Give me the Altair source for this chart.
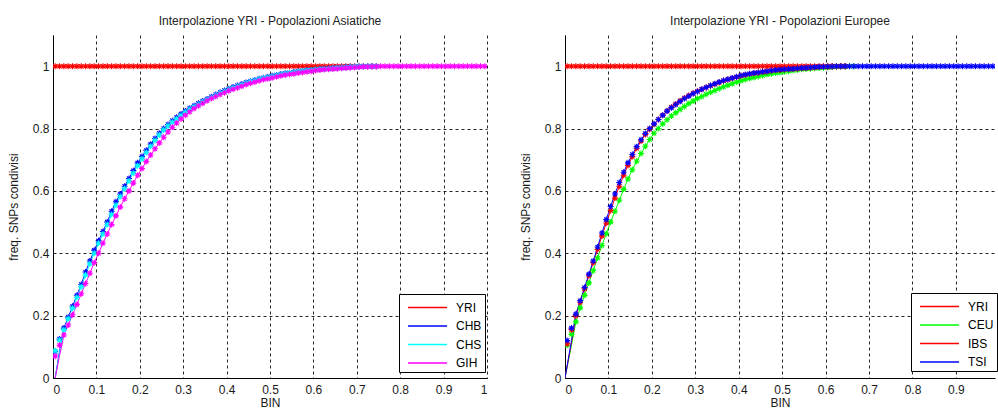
import altair as alt
import pandas as pd

FONT = "Liberation Sans"

# bin centres (x)
BIN = [0.005, 0.015, 0.025, 0.035, 0.045, 0.055, 0.065, 0.075, 0.085, 0.095,
       0.105, 0.115, 0.125, 0.135, 0.145, 0.155, 0.165, 0.175, 0.185, 0.195,
       0.205, 0.215, 0.225, 0.235, 0.245, 0.255, 0.265, 0.275, 0.285, 0.295,
       0.305, 0.315, 0.325, 0.335, 0.345, 0.355, 0.365, 0.375, 0.385, 0.395,
       0.405, 0.415, 0.425, 0.435, 0.445, 0.455, 0.465, 0.475, 0.485, 0.495,
       0.505, 0.515, 0.525, 0.535, 0.545, 0.555, 0.565, 0.575, 0.585, 0.595,
       0.605, 0.615, 0.625, 0.635, 0.645, 0.655, 0.665, 0.675, 0.685, 0.695,
       0.705, 0.715, 0.725, 0.735, 0.745, 0.755, 0.765, 0.775, 0.785, 0.795,
       0.805, 0.815, 0.825, 0.835, 0.845, 0.855, 0.865, 0.875, 0.885, 0.895,
       0.905, 0.915, 0.925, 0.935, 0.945, 0.955, 0.965, 0.975, 0.985, 0.995]

# ---------------- Asian populations ----------------
ASIA_NAMES = ["YRI", "CHB", "CHS", "GIH"]
ASIA_COLORS = ["#ff0000", "#0000ff", "#00ffff", "#ff00ff"]

YRI_ASIA = [1.0, 1.0, 1.0, 1.0, 1.0, 1.0, 1.0, 1.0, 1.0, 1.0, 1.0, 1.0, 1.0, 1.0, 1.0,
            1.0, 1.0, 1.0, 1.0, 1.0, 1.0, 1.0, 1.0, 1.0, 1.0, 1.0, 1.0, 1.0, 1.0, 1.0,
            1.0, 1.0, 1.0, 1.0, 1.0, 1.0, 1.0, 1.0, 1.0, 1.0, 1.0, 1.0, 1.0, 1.0, 1.0,
            1.0, 1.0, 1.0, 1.0, 1.0, 1.0, 1.0, 1.0, 1.0, 1.0, 1.0, 1.0, 1.0, 1.0, 1.0,
            1.0, 1.0, 1.0, 1.0, 1.0, 1.0, 1.0, 1.0, 1.0, 1.0, 1.0, 1.0, 1.0, 1.0, 1.0]

CHB = [0.085, 0.125, 0.16, 0.195, 0.23, 0.265, 0.30, 0.34, 0.375, 0.41,
       0.44, 0.47, 0.50, 0.535, 0.565, 0.59, 0.615, 0.64, 0.665, 0.69,
       0.71, 0.73, 0.75, 0.768, 0.785, 0.80, 0.813, 0.825, 0.836, 0.847,
       0.856, 0.865, 0.873, 0.881, 0.888, 0.895, 0.902, 0.909, 0.916, 0.922,
       0.928, 0.933, 0.938, 0.943, 0.948, 0.952, 0.956, 0.96, 0.963, 0.966,
       0.969, 0.972, 0.975, 0.977, 0.979, 0.981, 0.983, 0.985, 0.987, 0.988,
       0.989, 0.991, 0.992, 0.993, 0.994, 0.995, 0.996, 0.997, 0.998, 0.998,
       0.999, 0.999, 1.0, 1.0, 1.0]

CHS = [0.087, 0.121, 0.155, 0.19, 0.224, 0.258, 0.293, 0.33, 0.366, 0.40,
       0.432, 0.462, 0.492, 0.524, 0.554, 0.582, 0.607, 0.632, 0.657, 0.681,
       0.703, 0.723, 0.743, 0.762, 0.779, 0.795, 0.808, 0.82, 0.831, 0.842,
       0.852, 0.861, 0.869, 0.877, 0.885, 0.892, 0.899, 0.906, 0.913, 0.919,
       0.925, 0.93, 0.935, 0.94, 0.945, 0.95, 0.954, 0.958, 0.961, 0.964,
       0.967, 0.97, 0.973, 0.976, 0.978, 0.98, 0.982, 0.984, 0.986, 0.987,
       0.989, 0.99, 0.991, 0.992, 0.993, 0.994, 0.995, 0.996, 0.997, 0.998,
       0.999, 0.999, 1.0, 1.0, 1.0]

GIH = [0.07, 0.105, 0.138, 0.17, 0.203, 0.236, 0.27, 0.303, 0.336, 0.37,
       0.40, 0.432, 0.462, 0.492, 0.52, 0.548, 0.575, 0.60, 0.625, 0.65,
       0.672, 0.694, 0.715, 0.735, 0.754, 0.772, 0.789, 0.804, 0.818, 0.831,
       0.843, 0.854, 0.864, 0.873, 0.881, 0.889, 0.896, 0.903, 0.909, 0.915,
       0.921, 0.926, 0.931, 0.936, 0.941, 0.945, 0.949, 0.953, 0.957, 0.96,
       0.963, 0.966, 0.969, 0.972, 0.974, 0.976, 0.978, 0.98, 0.982, 0.984,
       0.986, 0.988, 0.989, 0.99, 0.991, 0.992, 0.993, 0.994, 0.995, 0.996,
       0.997, 0.998, 0.998, 0.999, 0.999, 1.0, 1.0, 1.0, 1.0, 1.0,
       1.0, 1.0, 1.0, 1.0, 1.0, 1.0, 1.0, 1.0, 1.0, 1.0,
       1.0, 1.0, 1.0, 1.0, 1.0, 1.0, 1.0, 1.0, 1.0, 1.0]

# start of the interpolating curves (line only)
FIT_X_ASIA = [0.005, 0.015]
FIT_HEAD_ASIA = {"CHB": [0.0, 0.085], "CHS": [0.0, 0.08], "GIH": [0.0, 0.07]}

# ---------------- European populations ----------------
EUR_NAMES = ["YRI", "CEU", "IBS", "TSI"]
EUR_COLORS = ["#ff0000", "#00ff00", "#ff0000", "#0000ff"]

YRI_EUR = [1.0, 1.0, 1.0, 1.0, 1.0, 1.0, 1.0, 1.0, 1.0, 1.0, 1.0, 1.0, 1.0,
           1.0, 1.0, 1.0, 1.0, 1.0, 1.0, 1.0, 1.0, 1.0, 1.0, 1.0, 1.0, 1.0,
           1.0, 1.0, 1.0, 1.0, 1.0, 1.0, 1.0, 1.0, 1.0, 1.0, 1.0, 1.0, 1.0,
           1.0, 1.0, 1.0, 1.0, 1.0, 1.0, 1.0, 1.0, 1.0, 1.0, 1.0, 1.0, 1.0,
           1.0, 1.0, 1.0, 1.0, 1.0, 1.0, 1.0, 1.0, 1.0, 1.0, 1.0, 1.0, 1.0]

CEU = [0.105, 0.14, 0.18, 0.225, 0.265, 0.305, 0.345, 0.385, 0.425, 0.463,
       0.50, 0.535, 0.57, 0.605, 0.638, 0.668, 0.695, 0.72, 0.743, 0.765,
       0.785, 0.80, 0.815, 0.828, 0.84, 0.851, 0.861, 0.871, 0.88, 0.888,
       0.896, 0.903, 0.91, 0.916, 0.922, 0.928, 0.934, 0.939, 0.944, 0.949,
       0.953, 0.957, 0.961, 0.964, 0.967, 0.97, 0.973, 0.976, 0.978, 0.98,
       0.982, 0.984, 0.986, 0.988, 0.99, 0.991, 0.992, 0.993, 0.994, 0.995,
       0.996, 0.997, 0.998, 0.999, 0.999, 1.0, 1.0]

IBS = [0.11, 0.155, 0.2, 0.243, 0.286, 0.328, 0.37, 0.412, 0.455, 0.497,
       0.537, 0.577, 0.615, 0.65, 0.682, 0.71, 0.737, 0.76, 0.781, 0.798,
       0.814, 0.829, 0.843, 0.856, 0.868, 0.879, 0.889, 0.898, 0.906, 0.913,
       0.92, 0.926, 0.932, 0.937, 0.943, 0.948, 0.953, 0.957, 0.961, 0.965,
       0.969, 0.972, 0.975, 0.977, 0.979, 0.981, 0.983, 0.985, 0.987, 0.988,
       0.989, 0.99, 0.991, 0.992, 0.993, 0.994, 0.995, 0.996, 0.997, 0.998,
       0.998, 0.999, 0.999, 1.0, 1.0]

TSI = [0.12, 0.16, 0.205, 0.248, 0.29, 0.333, 0.375, 0.42, 0.465, 0.508,
       0.55, 0.59, 0.627, 0.66, 0.69, 0.717, 0.742, 0.764, 0.784, 0.80,
       0.815, 0.829, 0.843, 0.856, 0.867, 0.877, 0.887, 0.896, 0.904, 0.912,
       0.919, 0.926, 0.932, 0.938, 0.944, 0.949, 0.954, 0.958, 0.962, 0.966,
       0.97, 0.973, 0.976, 0.978, 0.98, 0.982, 0.984, 0.986, 0.988, 0.989,
       0.99, 0.991, 0.992, 0.993, 0.994, 0.995, 0.996, 0.997, 0.998, 0.998,
       0.999, 0.999, 1.0, 1.0, 1.0, 1.0, 1.0, 1.0, 1.0, 1.0,
       1.0, 1.0, 1.0, 1.0, 1.0, 1.0, 1.0, 1.0, 1.0, 1.0,
       1.0, 1.0, 1.0, 1.0, 1.0, 1.0, 1.0, 1.0, 1.0, 1.0,
       1.0, 1.0, 1.0, 1.0, 1.0, 1.0, 1.0, 1.0, 1.0]

FIT_X_EUR = [0.0, 0.015]
FIT_HEAD_EUR = {"CEU": [0.0, 0.105], "IBS": [0.0, 0.115], "TSI": [0.0, 0.12]}

X_TICKS_ASIA = [0, 0.1, 0.2, 0.3, 0.4, 0.5, 0.6, 0.7, 0.8, 0.9, 1.0]
X_TICKS_EUR = [0, 0.1, 0.2, 0.3, 0.4, 0.5, 0.6, 0.7, 0.8, 0.9]
Y_TICKS = [0, 0.2, 0.4, 0.6, 0.8, 1.0]

STAR = "M-1,0L1,0M0,-1L0,1M-0.7,-0.7L0.7,0.7M-0.7,0.7L0.7,-0.7"


def build(names, values, fit_x, fit_heads):
    pts, lns = [], []
    for k, (name, ys) in enumerate(zip(names, values)):
        for x, y in zip(BIN, ys):
            pts.append({"bin": x, "freq": y, "pop": name, "k": k})
        head = fit_heads.get(name, [])
        for x, y in zip(fit_x[:len(head)], head):
            lns.append({"bin": x, "freq": y, "pop": name, "k": k})
        for x, y in zip(BIN[len(head):len(ys)], ys[len(head):]):
            lns.append({"bin": x, "freq": y, "pop": name, "k": k})
    return pd.DataFrame(pts), pd.DataFrame(lns)


def panel(title, names, colors, values, fit_x, fit_heads, xmax, xticks, width,
          lx, ly, pad_label):
    pts, lns = build(names, values, fit_x, fit_heads)
    xenc = alt.X("bin:Q",
                 scale=alt.Scale(domain=[0, xmax], nice=False, zero=False),
                 axis=alt.Axis(values=xticks, format=".1~f", title="BIN"))
    yenc = alt.Y("freq:Q",
                 scale=alt.Scale(domain=[0, 1.1], nice=False),
                 axis=alt.Axis(values=Y_TICKS, format=".1~f",
                               title="freq. SNPs condivisi"))
    legend = alt.Legend(title=None, orient="none", legendX=lx, legendY=ly,
                        symbolType="M-2,0L2,0", symbolSize=380,
                        symbolOffset=15, labelOffset=18,
                        symbolStrokeWidth=1.5, rowPadding=1.5, padding=3,
                        labelExpr="datum.label + '" + pad_label + "'",
                        fillColor="white", strokeColor="black",
                        labelFont=FONT, labelFontSize=12, labelColor="#000")
    color = alt.Color("pop:N", scale=alt.Scale(domain=names, range=colors),
                      legend=legend, sort=names)
    lines = alt.Chart(lns).mark_line(strokeWidth=1, clip=True).encode(
        x=xenc, y=yenc, color=color, detail="k:N")
    stars = alt.Chart(pts).mark_point(
        shape=STAR, size=36, filled=False, strokeWidth=1.1, opacity=1,
        clip=True).encode(x=xenc, y=yenc, color=color,
                          order=alt.Order("k:Q"))
    return alt.layer(lines, stars).properties(
        width=width, height=343,
        title=alt.TitleParams(title, fontSize=12, fontWeight="normal",
                              font=FONT, color="#222", offset=7,
                              anchor="middle"))


left = panel("Interpolazione YRI - Popolazioni Asiatiche", ASIA_NAMES,
             ASIA_COLORS, [YRI_ASIA, CHB, CHS, GIH], FIT_X_ASIA,
             FIT_HEAD_ASIA, 1.0, X_TICKS_ASIA, 434, 346, 259, "       ")
right = panel("Interpolazione YRI - Popolazioni Europee", EUR_NAMES,
              EUR_COLORS, [YRI_EUR, CEU, IBS, TSI], FIT_X_EUR,
              FIT_HEAD_EUR, 0.99, X_TICKS_EUR, 430, 346, 258, "  ")

chart = alt.hconcat(left, right, spacing=32).resolve_scale(
    color="independent").resolve_legend(color="independent").properties(
    padding={"left": 7, "top": 15, "right": 0, "bottom": 0},
    background="white"
).configure_view(stroke=None).configure_axis(
    domainColor="#000", domainWidth=1, ticks=False, tickSize=0,
    grid=True, gridColor="#000", gridDash=[3, 3], gridOpacity=0.85,
    labelFont=FONT, labelFontSize=12, labelColor="#1a1a1a", labelPadding=4,
    titleFont=FONT, titleFontSize=12, titleFontWeight="normal",
    titleColor="#1a1a1a"
).configure_axisX(titlePadding=2, labelPadding=6).configure_axisY(
    titlePadding=12)

chart.save("out.html", embed_options={"renderer": "svg", "actions": False})
